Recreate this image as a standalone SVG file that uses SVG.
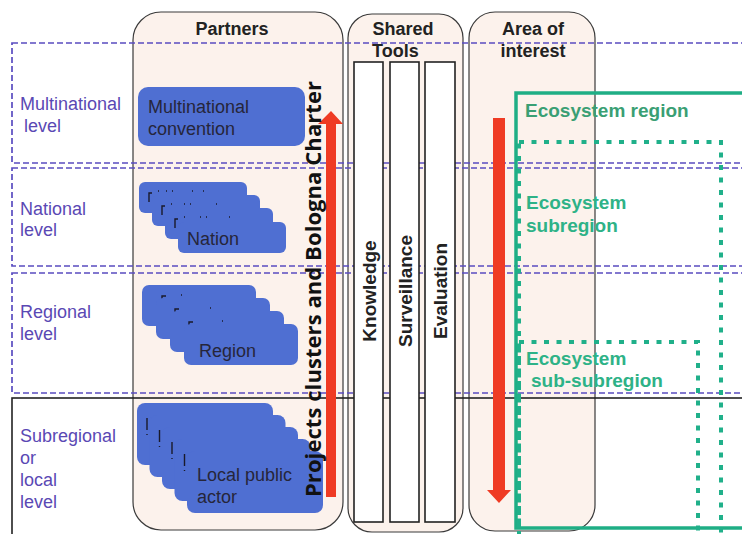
<svg xmlns="http://www.w3.org/2000/svg" width="742" height="534" viewBox="0 0 742 534">
<style>
.col{fill:#fcf2ec;stroke:#3a3a3a;stroke-width:1.2}
.band{fill:none;stroke:#5a4cc0;stroke-width:1.7;stroke-dasharray:6 3}
.lvl{font-family:"Liberation Sans",Arial,sans-serif;font-size:18px;fill:#5a48b4}
.hdr{font-family:"Liberation Sans",Arial,sans-serif;font-size:18px;font-weight:bold;fill:#222}
.card{fill:#4f6fd2}
.ctx{font-family:"Liberation Sans",Arial,sans-serif;font-size:18px;fill:#26263a}
.tool{fill:#fff;stroke:#222;stroke-width:1.6}
.ttx{font-family:"Liberation Sans",Arial,sans-serif;font-size:19px;font-weight:bold;fill:#222}
.eco{fill:none;stroke:#1fae85;stroke-width:3.5}
.dot{fill:none;stroke:#20b08a;stroke-width:4;stroke-dasharray:5 7.5}
.gtx{font-family:"Liberation Sans",Arial,sans-serif;font-size:19px;font-weight:bold;fill:#2eb287}
.mk{stroke:#1a1a2a;stroke-width:1.4;fill:none}
.red{fill:#ef3b24}
</style>
<rect width="742" height="534" fill="#ffffff"/>

<g id="col-partners"><rect class="col" x="133" y="12" width="210" height="518" rx="28"/><text class="hdr" x="232" y="35" text-anchor="middle">Partners</text></g>
<g id="col-tools"><rect class="col" x="348" y="14" width="115" height="518" rx="24"/><text class="hdr" x="403" y="35" text-anchor="middle">Shared</text><text class="hdr" x="372" y="57">Tools</text></g>
<g id="col-area"><rect class="col" x="469" y="12" width="126" height="519" rx="26"/><text class="hdr" x="533" y="35" text-anchor="middle">Area of</text><text class="hdr" x="533" y="57" text-anchor="middle">interest</text></g>

<g id="level-multinational"><rect class="band" x="12" y="43" width="745" height="120"/><text class="lvl" x="20" y="110">Multinational</text><text class="lvl" x="24" y="132">level</text></g>
<g id="level-national"><rect class="band" x="12" y="168" width="745" height="98"/><text class="lvl" x="20" y="215">National</text><text class="lvl" x="20" y="236">level</text></g>
<g id="level-regional"><rect class="band" x="12" y="273" width="745" height="120"/><text class="lvl" x="20" y="318">Regional</text><text class="lvl" x="20" y="340">level</text></g>
<g id="level-subregional"><rect x="12" y="398" width="745" height="150" fill="none" stroke="#222" stroke-width="1.6"/><text class="lvl" x="20" y="442">Subregional</text><text class="lvl" x="20" y="464">or</text><text class="lvl" x="20" y="486">local</text><text class="lvl" x="20" y="508">level</text></g>

<g id="tool-knowledge"><rect class="tool" x="354" y="62" width="29" height="460"/><text class="ttx" transform="translate(376,291) rotate(-90)" text-anchor="middle">Knowledge</text></g>
<g id="tool-surveillance"><rect class="tool" x="390" y="62" width="29" height="460"/><text class="ttx" transform="translate(412,291) rotate(-90)" text-anchor="middle">Surveillance</text></g>
<g id="tool-evaluation"><rect class="tool" x="425" y="62" width="30" height="460"/><text class="ttx" transform="translate(447,291) rotate(-90)" text-anchor="middle">Evaluation</text></g>

<g id="card-multinational"><rect class="card" x="138" y="87" width="167" height="59" rx="10"/><text class="ctx" x="148" y="113">Multinational</text><text class="ctx" x="148" y="135">convention</text></g>

<g id="card-nation">
<rect class="card" x="139" y="182" width="108" height="31" rx="6"/><path class="mk" d="M149 202v-9h3M158 191h1M166 191h1M172 191h1M192 191h1M203 191h1"/>
<rect class="card" x="152" y="195" width="108" height="31" rx="6"/><path class="mk" d="M162 215v-9h3M171 204h1M184 204h1M190 204h1M216 204h1"/>
<rect class="card" x="165" y="208" width="108" height="31" rx="6"/><path class="mk" d="M175 228v-9h3M184 217h1M200 217h1M206 217h1M229 217h1"/>
<rect class="card" x="178" y="222" width="108" height="31" rx="6"/>
<text class="ctx" x="187" y="245">Nation</text>
</g>

<g id="card-region">
<rect class="card" x="142" y="285" width="114" height="41" rx="7"/><path class="mk" d="M162 305v-9h4M181 295h1"/>
<rect class="card" x="156" y="298" width="114" height="41" rx="7"/><path class="mk" d="M175 318v-9h4M210 308h1"/>
<rect class="card" x="170" y="311" width="114" height="41" rx="7"/><path class="mk" d="M189 331v-9h4M222 321h1"/>
<rect class="card" x="184" y="324" width="114" height="41" rx="7"/>
<text class="ctx" x="199" y="357">Region</text>
</g>

<g id="card-local">
<rect class="card" x="137" y="403" width="136" height="62" rx="8"/><path class="mk" d="M147 418v12M147 434v1M191 416h1M219 416h1M225 416h1M233 416h1"/>
<rect class="card" x="149.5" y="415" width="136" height="62" rx="8"/><path class="mk" d="M159.5 430v12M159.5 446v1M201 429h1M230 429h1M241 429h1M247 429h1"/>
<rect class="card" x="162" y="427" width="136" height="62" rx="8"/><path class="mk" d="M172 442v12M172 458v1M213 441h1M243 441h1M254 441h1M260 441h1"/>
<rect class="card" x="174.5" y="439" width="136" height="62" rx="8"/><path class="mk" d="M184.5 454v12M184.5 470v1M227 453h1M258 453h1M269 453h1M274 453h1"/>
<rect class="card" x="187" y="451" width="136" height="62" rx="8"/>
<text class="ctx" x="197" y="481">Local public</text><text class="ctx" x="197" y="503">actor</text>
</g>

<g id="eco-region"><rect class="eco" x="516" y="93" width="240" height="435"/><text class="gtx" x="525" y="117" style="fill:#3a9f74">Ecosystem region</text></g>
<g id="eco-subregion"><rect class="dot" x="519" y="142" width="202" height="395"/><text class="gtx" x="526" y="209">Ecosystem</text><text class="gtx" x="526" y="232">subregion</text></g>
<g id="eco-subsubregion"><rect class="dot" x="519" y="342" width="179" height="195"/><text class="gtx" x="526" y="365">Ecosystem</text><text class="gtx" x="531" y="387">sub-subregion</text></g>

<g id="connectors">
<path class="red" d="M326 497V124h-8l13-13 12 13h-7v373z"/>
<path class="red" d="M493 118h12v372h6l-12 13-12-13h6z"/>
</g>

<g id="label-projects"><text transform="translate(321,497) rotate(-90)" font-family="'Open Sans','Noto Sans',sans-serif" font-size="22" font-weight="bold" fill="#111" textLength="416">Projects  clusters and Bologna Charter</text></g>
</svg>
